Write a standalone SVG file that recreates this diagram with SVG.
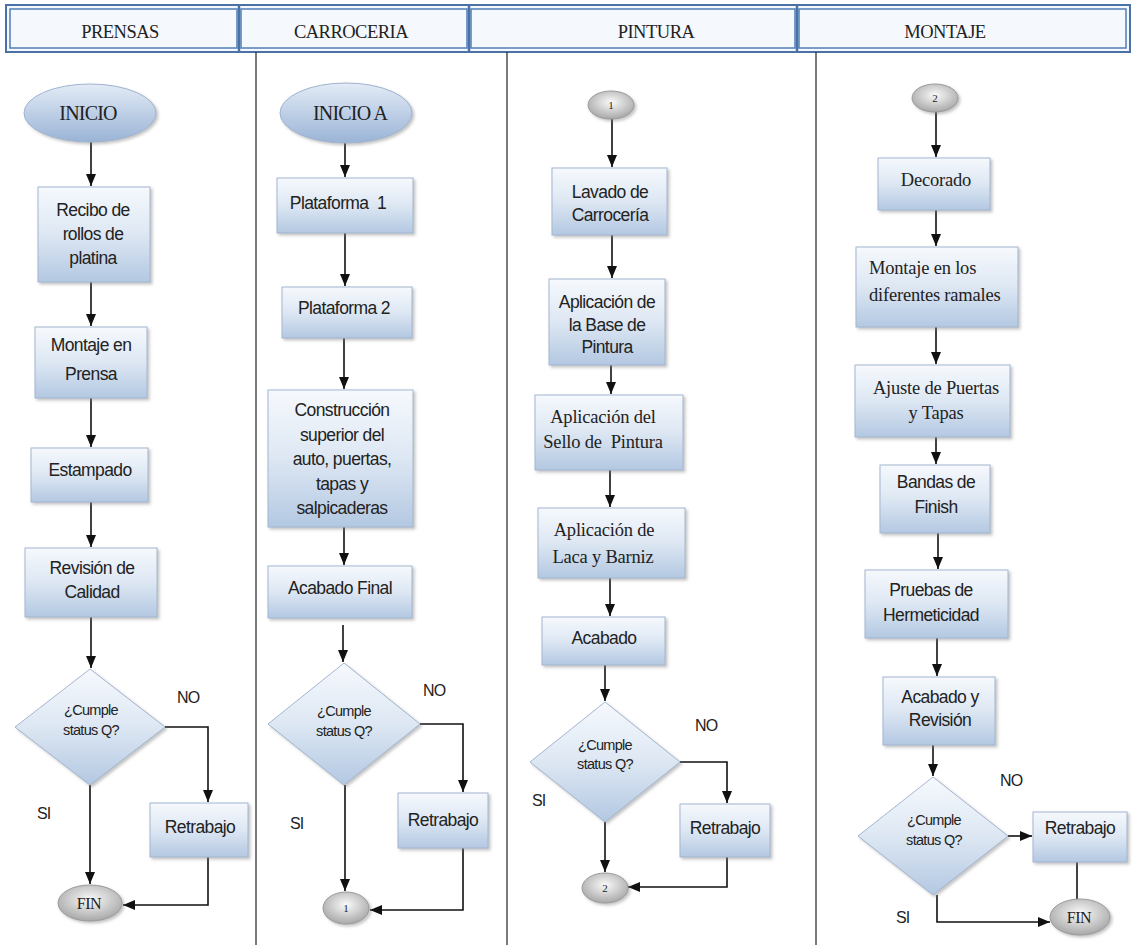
<svg xmlns="http://www.w3.org/2000/svg" width="1132" height="945" viewBox="0 0 1132 945">
  <defs>
    <linearGradient id="boxFill" x1="0" y1="0" x2="0" y2="1">
      <stop offset="0" stop-color="#f6f9fd"/>
      <stop offset="0.5" stop-color="#dde7f3"/>
      <stop offset="1" stop-color="#b3c8e2"/>
    </linearGradient>
    <linearGradient id="startFill" x1="0" y1="0" x2="0" y2="1">
      <stop offset="0" stop-color="#e3ebf6"/>
      <stop offset="1" stop-color="#9ab4d6"/>
    </linearGradient>
    <radialGradient id="grayFill" cx="0.5" cy="0.4" r="0.6">
      <stop offset="0" stop-color="#fafafa"/>
      <stop offset="1" stop-color="#a8a8a8"/>
    </radialGradient>
    <filter id="shadow" x="-10%" y="-10%" width="125%" height="130%">
      <feDropShadow dx="2" dy="2" stdDeviation="1.5" flood-color="#7a7a7a" flood-opacity="0.45"/>
    </filter>
    <marker id="arrow" viewBox="0 0 12 10" refX="12" refY="5" markerWidth="12" markerHeight="10" markerUnits="userSpaceOnUse" orient="auto">
      <path d="M0,0 L12,5 L0,10 z" fill="#111"/>
    </marker>
    <style>
      .box { fill: url(#boxFill); stroke: #a3b6cf; stroke-width: 1; filter: url(#shadow); }
      .dec { fill: url(#boxFill); stroke: #a3b6cf; stroke-width: 1; filter: url(#shadow); }
      .start { fill: url(#startFill); stroke: #9fb3cf; stroke-width: 1; filter: url(#shadow); }
      .term { fill: url(#grayFill); stroke: #9a9a9a; stroke-width: 1; filter: url(#shadow); }
      .t { font-family: "Liberation Sans", Arial, sans-serif; font-size: 17.5px; fill: #222; text-anchor: middle; letter-spacing: -0.6px; }
      .ts { font-family: "Liberation Serif", "Times New Roman", serif; font-size: 18.5px; fill: #222; text-anchor: middle; letter-spacing: -0.2px; }
      .lft { text-anchor: start; }
      .big { font-size: 20px; letter-spacing: -0.8px; }
      .fin { font-size: 16px; letter-spacing: -0.5px; }
      .num { font-size: 11px; letter-spacing: 0; }
      .tq { font-family: "Liberation Sans", Arial, sans-serif; font-size: 14.5px; fill: #222; text-anchor: middle; letter-spacing: -0.7px; }
      .lbl { font-family: "Liberation Sans", Arial, sans-serif; font-size: 16px; fill: #222; letter-spacing: -0.8px; }
      .hd { font-family: "Liberation Serif", "Times New Roman", serif; font-size: 18.5px; fill: #222; text-anchor: middle; letter-spacing: -0.5px; }
      .cell { fill: none; stroke: #5a85bb; stroke-width: 1.6; }
      .lane { stroke: #222; stroke-width: 1.2; }
      .conn path { fill: none; stroke: #111; stroke-width: 1.6; }
    </style>
  </defs>

  <rect width="1132" height="945" fill="#ffffff"/>

  <!-- header band with the four department titles -->
  <g id="header">
    <rect x="6" y="5" width="1124" height="47" fill="#f5f9fd" stroke="#4a72a6" stroke-width="2"/>
    <rect class="cell" x="10" y="9" width="227" height="39"/>
    <rect class="cell" x="241" y="9" width="226" height="39"/>
    <rect class="cell" x="471" y="9" width="324" height="39"/>
    <rect class="cell" x="799" y="9" width="327" height="39"/>
    <line x1="239" y1="6" x2="239" y2="52" stroke="#4a72a6" stroke-width="2.5"/>
    <line x1="469" y1="6" x2="469" y2="52" stroke="#4a72a6" stroke-width="2.5"/>
    <line x1="797" y1="6" x2="797" y2="52" stroke="#4a72a6" stroke-width="2.5"/>
    <text class="hd" x="120" y="38">PRENSAS</text>
    <text class="hd" x="351" y="38">CARROCERIA</text>
    <text class="hd" x="656" y="38">PINTURA</text>
    <text class="hd" x="945" y="38">MONTAJE</text>
  </g>

  <!-- swimlane separators -->
  <g id="lanes">
    <line class="lane" x1="256" y1="52" x2="256" y2="945"/>
    <line class="lane" x1="507" y1="52" x2="507" y2="945"/>
    <line class="lane" x1="816" y1="52" x2="816" y2="945"/>
  </g>

  <!-- connectors -->
  <g id="connectors" class="conn">
    <!-- PRENSAS -->
    <path d="M91,142 V186" marker-end="url(#arrow)"/>
    <path d="M91,282 V326" marker-end="url(#arrow)"/>
    <path d="M91,398 V447" marker-end="url(#arrow)"/>
    <path d="M91,502 V547" marker-end="url(#arrow)"/>
    <path d="M91,617 V668" marker-end="url(#arrow)"/>
    <path d="M165,727 H208 V802" marker-end="url(#arrow)"/>
    <path d="M90,785 V884" marker-end="url(#arrow)"/>
    <path d="M208,857 V905 H123" marker-end="url(#arrow)"/>
    <!-- CARROCERIA -->
    <path d="M345,143 V177" marker-end="url(#arrow)"/>
    <path d="M345,233 V286" marker-end="url(#arrow)"/>
    <path d="M344,338 V389" marker-end="url(#arrow)"/>
    <path d="M344,527 V565" marker-end="url(#arrow)"/>
    <path d="M343,625 V662" marker-end="url(#arrow)"/>
    <path d="M420,724 H463 V792" marker-end="url(#arrow)"/>
    <path d="M345,785 V891" marker-end="url(#arrow)"/>
    <path d="M463,848 V910 H370" marker-end="url(#arrow)"/>
    <!-- PINTURA -->
    <path d="M612,119 V167" marker-end="url(#arrow)"/>
    <path d="M612,235 V278" marker-end="url(#arrow)"/>
    <path d="M611,365 V394" marker-end="url(#arrow)"/>
    <path d="M610,470 V507" marker-end="url(#arrow)"/>
    <path d="M610,578 V616" marker-end="url(#arrow)"/>
    <path d="M605,665 V701" marker-end="url(#arrow)"/>
    <path d="M680,762 H727 V803" marker-end="url(#arrow)"/>
    <path d="M605,822 V872" marker-end="url(#arrow)"/>
    <path d="M727,857 V887 H628" marker-end="url(#arrow)"/>
    <!-- MONTAJE -->
    <path d="M936,112 V157" marker-end="url(#arrow)"/>
    <path d="M936,210 V246" marker-end="url(#arrow)"/>
    <path d="M936,327 V364" marker-end="url(#arrow)"/>
    <path d="M936,437 V464" marker-end="url(#arrow)"/>
    <path d="M938,533 V569" marker-end="url(#arrow)"/>
    <path d="M937,638 V676" marker-end="url(#arrow)"/>
    <path d="M933,745 V776" marker-end="url(#arrow)"/>
    <path d="M1008,836 H1032" marker-end="url(#arrow)"/>
    <path d="M1077,862 V899"/>
    <path d="M937,895 V922 H1050" marker-end="url(#arrow)"/>
  </g>

  <!-- PRENSAS lane -->
  <g id="prensas-inicio">
    <ellipse class="start" cx="90" cy="113" rx="66" ry="29"/>
    <text class="ts big" x="88" y="120">INICIO</text>
  </g>
  <g id="prensas-recibo">
    <rect class="box" x="38" y="187" width="112" height="95"/>
    <text class="t" x="93" y="216">Recibo de</text>
    <text class="t" x="93" y="240">rollos de</text>
    <text class="t" x="93" y="264">platina</text>
  </g>
  <g id="prensas-montaje">
    <rect class="box" x="35" y="327" width="112" height="71"/>
    <text class="t" x="91" y="351">Montaje en</text>
    <text class="t" x="91" y="380">Prensa</text>
  </g>
  <g id="prensas-estampado">
    <rect class="box" x="31" y="448" width="117" height="54"/>
    <text class="t" x="90" y="476">Estampado</text>
  </g>
  <g id="prensas-revision">
    <rect class="box" x="25" y="548" width="132" height="69"/>
    <text class="t" x="92" y="574">Revisión de</text>
    <text class="t" x="92" y="598">Calidad</text>
  </g>
  <g id="prensas-decision">
    <polygon class="dec" points="90,669 165,727 90,785 15,727"/>
    <text class="tq" x="91" y="715">¿Cumple</text>
    <text class="tq" x="91" y="735">status Q?</text>
    <text class="lbl" x="177" y="703">NO</text>
    <text class="lbl" x="37" y="819">SI</text>
  </g>
  <g id="prensas-retrabajo">
    <rect class="box" x="150" y="803" width="98" height="54"/>
    <text class="t" x="200" y="833">Retrabajo</text>
  </g>
  <g id="prensas-fin">
    <ellipse class="term" cx="90" cy="903" rx="32" ry="18"/>
    <text class="ts fin" x="89" y="909">FIN</text>
  </g>

  <!-- CARROCERIA lane -->
  <g id="carroceria-inicio">
    <ellipse class="start" cx="346" cy="113" rx="66" ry="30"/>
    <text class="ts big" x="350" y="120">INICIO A</text>
  </g>
  <g id="carroceria-plataforma1">
    <rect class="box" x="277" y="178" width="136" height="55"/>
    <text class="t" x="338" y="209" xml:space="preserve">Plataforma  1</text>
  </g>
  <g id="carroceria-plataforma2">
    <rect class="box" x="282" y="287" width="130" height="51"/>
    <text class="t" x="344" y="314">Plataforma 2</text>
  </g>
  <g id="carroceria-construccion">
    <rect class="box" x="268" y="390" width="145" height="137"/>
    <text class="t" x="342" y="416">Construcción</text>
    <text class="t" x="342" y="441">superior del</text>
    <text class="t" x="342" y="465">auto, puertas,</text>
    <text class="t" x="342" y="490">tapas y</text>
    <text class="t" x="342" y="514">salpicaderas</text>
  </g>
  <g id="carroceria-acabado">
    <rect class="box" x="268" y="566" width="144" height="52"/>
    <text class="t" x="340" y="594">Acabado Final</text>
  </g>
  <g id="carroceria-decision">
    <polygon class="dec" points="344,663 420,724 344,785 268,724"/>
    <text class="tq" x="344" y="716">¿Cumple</text>
    <text class="tq" x="344" y="736">status Q?</text>
    <text class="lbl" x="423" y="696">NO</text>
    <text class="lbl" x="290" y="829">SI</text>
  </g>
  <g id="carroceria-retrabajo">
    <rect class="box" x="398" y="793" width="90" height="55"/>
    <text class="t" x="443" y="826">Retrabajo</text>
  </g>
  <g id="carroceria-conector1">
    <ellipse class="term" cx="346" cy="908" rx="23" ry="16"/>
    <text class="ts num" x="346" y="912">1</text>
  </g>

  <!-- PINTURA lane -->
  <g id="pintura-conector1">
    <ellipse class="term" cx="611" cy="105" rx="23" ry="14"/>
    <text class="ts num" x="611" y="109">1</text>
  </g>
  <g id="pintura-lavado">
    <rect class="box" x="552" y="168" width="115" height="67"/>
    <text class="t" x="610" y="198">Lavado de</text>
    <text class="t" x="610" y="221">Carrocería</text>
  </g>
  <g id="pintura-base">
    <rect class="box" x="549" y="279" width="116" height="86"/>
    <text class="t" x="607" y="308">Aplicación de</text>
    <text class="t" x="607" y="331">la Base de</text>
    <text class="t" x="607" y="353">Pintura</text>
  </g>
  <g id="pintura-sello">
    <rect class="box" x="535" y="395" width="148" height="75"/>
    <text class="ts" x="603" y="423">Aplicación del</text>
    <text class="ts" x="603" y="448" xml:space="preserve">Sello de  Pintura</text>
  </g>
  <g id="pintura-laca">
    <rect class="box" x="538" y="508" width="147" height="70"/>
    <text class="ts" x="604" y="536">Aplicación de</text>
    <text class="ts" x="603" y="563">Laca y Barniz</text>
  </g>
  <g id="pintura-acabado">
    <rect class="box" x="542" y="617" width="123" height="48"/>
    <text class="t" x="604" y="644">Acabado</text>
  </g>
  <g id="pintura-decision">
    <polygon class="dec" points="605,702 680,762 605,822 530,762"/>
    <text class="tq" x="605" y="750">¿Cumple</text>
    <text class="tq" x="605" y="769">status Q?</text>
    <text class="lbl" x="695" y="731">NO</text>
    <text class="lbl" x="532" y="806">SI</text>
  </g>
  <g id="pintura-retrabajo">
    <rect class="box" x="680" y="804" width="90" height="53"/>
    <text class="t" x="725" y="834">Retrabajo</text>
  </g>
  <g id="pintura-conector2">
    <ellipse class="term" cx="605" cy="888" rx="23" ry="15"/>
    <text class="ts num" x="605" y="892">2</text>
  </g>

  <!-- MONTAJE lane -->
  <g id="montaje-conector2">
    <ellipse class="term" cx="935" cy="98" rx="23" ry="14"/>
    <text class="ts num" x="935" y="102">2</text>
  </g>
  <g id="montaje-decorado">
    <rect class="box" x="878" y="158" width="112" height="52"/>
    <text class="ts" x="936" y="186">Decorado</text>
  </g>
  <g id="montaje-ramales">
    <rect class="box" x="856" y="247" width="162" height="80"/>
    <text class="ts lft" x="869" y="274">Montaje en los</text>
    <text class="ts lft" x="869" y="301">diferentes ramales</text>
  </g>
  <g id="montaje-ajuste">
    <rect class="box" x="855" y="365" width="155" height="72"/>
    <text class="ts" x="936" y="394">Ajuste de Puertas</text>
    <text class="ts" x="936" y="419">y Tapas</text>
  </g>
  <g id="montaje-bandas">
    <rect class="box" x="880" y="465" width="110" height="68"/>
    <text class="t" x="936" y="488">Bandas de</text>
    <text class="t" x="936" y="513">Finish</text>
  </g>
  <g id="montaje-pruebas">
    <rect class="box" x="865" y="570" width="143" height="68"/>
    <text class="t" x="931" y="596">Pruebas de</text>
    <text class="t" x="931" y="621">Hermeticidad</text>
  </g>
  <g id="montaje-acabado">
    <rect class="box" x="883" y="677" width="112" height="68"/>
    <text class="t" x="940" y="703">Acabado y</text>
    <text class="t" x="940" y="726">Revisión</text>
  </g>
  <g id="montaje-decision">
    <polygon class="dec" points="933,777 1008,836 933,895 858,836"/>
    <text class="tq" x="934" y="825">¿Cumple</text>
    <text class="tq" x="934" y="845">status Q?</text>
    <text class="lbl" x="1000" y="786">NO</text>
    <text class="lbl" x="896" y="923">SI</text>
  </g>
  <g id="montaje-retrabajo">
    <rect class="box" x="1033" y="812" width="94" height="50"/>
    <text class="t" x="1080" y="834">Retrabajo</text>
  </g>
  <g id="montaje-fin">
    <ellipse class="term" cx="1080" cy="917" rx="30" ry="18"/>
    <text class="ts fin" x="1079" y="923">FIN</text>
  </g>
</svg>
